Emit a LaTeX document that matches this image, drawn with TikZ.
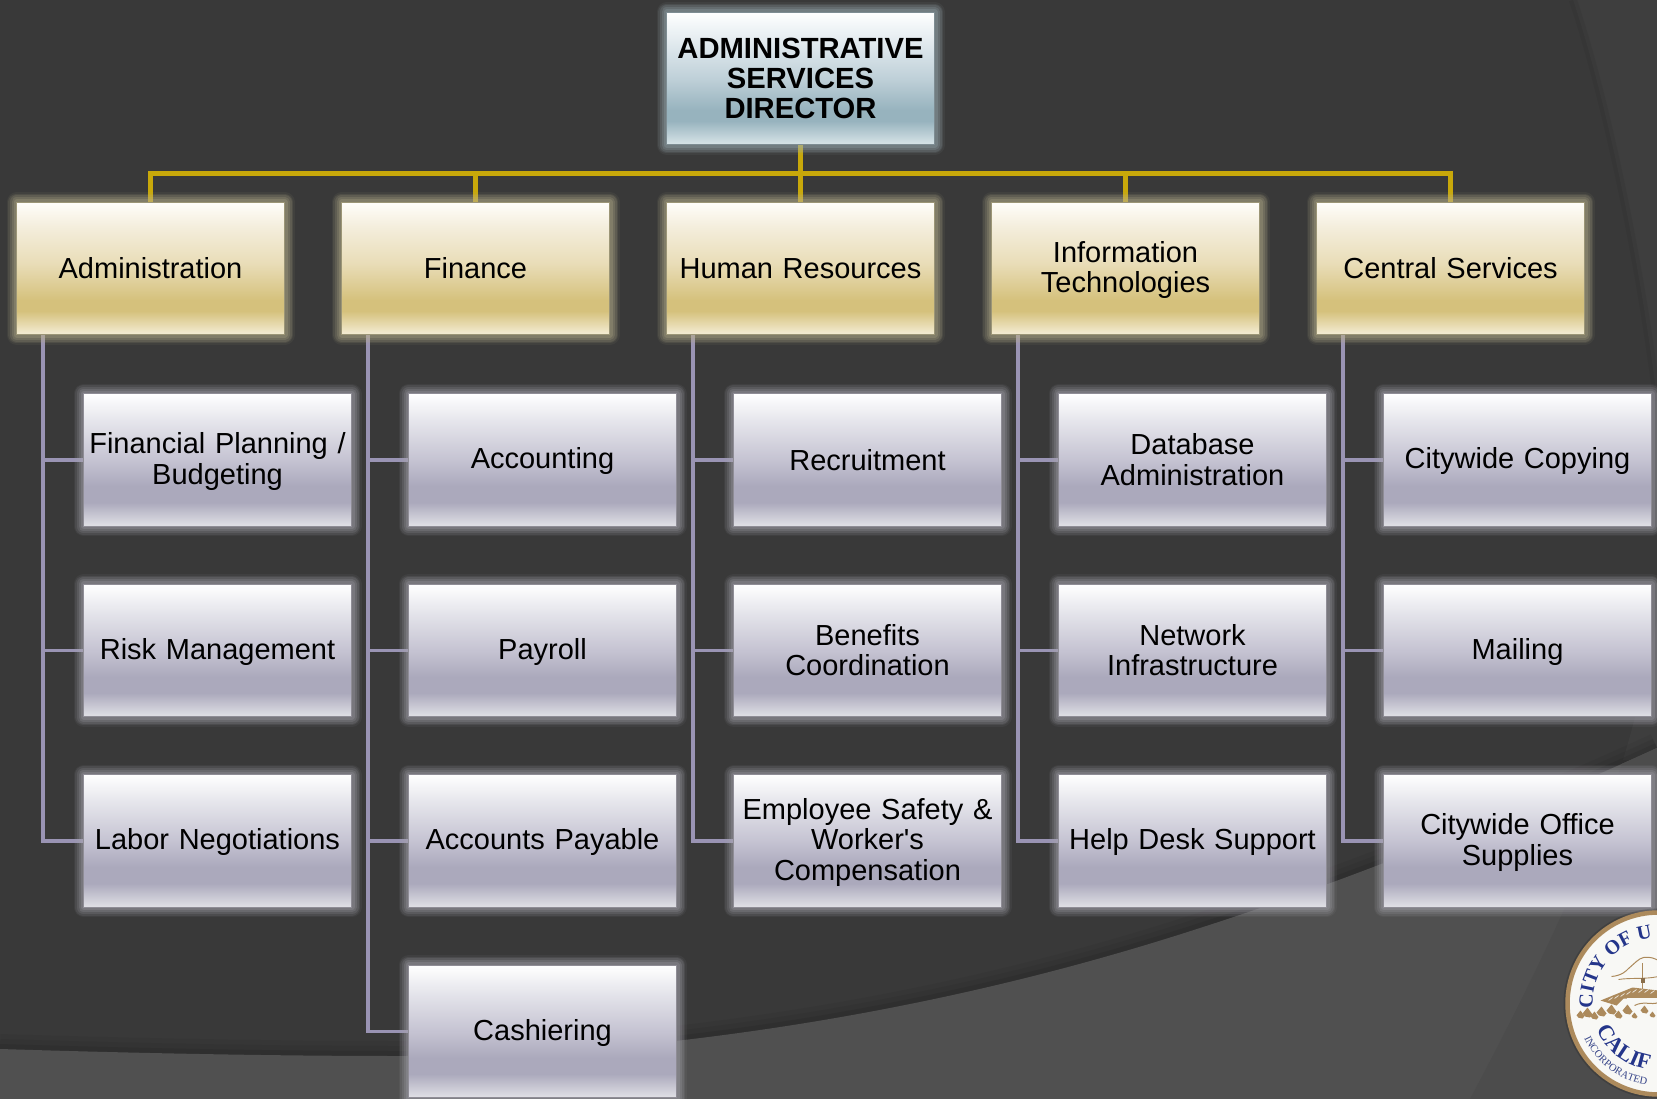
\documentclass[tikz,border=0pt]{standalone}
\usepackage{fontspec}
\setmainfont{Liberation Sans}
\newfontfamily\orgfont{Liberation Sans}
\newfontfamily\sealfont{Liberation Serif}
\usetikzlibrary{decorations.text}
\pgfdeclarelayer{bglayer}
\pgfdeclarelayer{connlayer}
\pgfsetlayers{bglayer,connlayer,main}
\definecolor{gA}{HTML}{FFFEFA}\definecolor{gB}{HTML}{F4EEDD}\definecolor{gC}{HTML}{E9DDB8}\definecolor{gD}{HTML}{D5C17C}\definecolor{gE}{HTML}{F3EBD1}
\definecolor{pA}{HTML}{FFFFFF}\definecolor{pB}{HTML}{E6E6EC}\definecolor{pC}{HTML}{C5C3D2}\definecolor{pD}{HTML}{ABA9BC}\definecolor{pE}{HTML}{DEDEE4}
\definecolor{bA}{HTML}{FFFFFF}\definecolor{bB}{HTML}{DDE7EC}\definecolor{bC}{HTML}{BFD0D8}\definecolor{bD}{HTML}{97B3BE}\definecolor{bE}{HTML}{D5E2E6}
\definecolor{bgdark}{HTML}{393939}\definecolor{bgmid}{HTML}{3E3E3E}\definecolor{bglight}{HTML}{505050}\definecolor{bgcrease}{HTML}{4C4C4C}
\definecolor{busgold}{HTML}{C8A80A}\definecolor{subpurple}{HTML}{9A94B4}
\definecolor{glowgold}{HTML}{B8B08C}\definecolor{glowpurple}{HTML}{A8A6B0}\definecolor{glowblue}{HTML}{9DB0B8}
\definecolor{sealtan}{HTML}{AC8A5C}\definecolor{sealblue}{HTML}{24358A}\definecolor{sealwhite}{HTML}{F8F8F5}
% the box of a path spans 25bp to 75bp of a 100bp vertical shading
\pgfdeclareverticalshading{goldsh}{100bp}{color(0bp)=(gE);color(25.5bp)=(gE);color(34bp)=(gD);color(38bp)=(gD);color(52bp)=(gC);color(66bp)=(gB);color(75bp)=(gA);color(100bp)=(gA)}
\pgfdeclareverticalshading{purplesh}{100bp}{color(0bp)=(pE);color(25.5bp)=(pE);color(34bp)=(pD);color(40bp)=(pD);color(50bp)=(pC);color(65bp)=(pB);color(75bp)=(pA);color(100bp)=(pA)}
\pgfdeclareverticalshading{bluesh}{100bp}{color(0bp)=(bE);color(25.5bp)=(bE);color(34bp)=(bD);color(38bp)=(bD);color(50bp)=(bC);color(62bp)=(bB);color(75bp)=(bA);color(100bp)=(bA)}
\tikzset{
  glowing/.style={
    preaction={draw=#1,line join=round,line width=20pt,opacity=.07},
    preaction={draw=#1,line join=round,line width=17pt,opacity=.12},
    preaction={draw=#1,line join=round,line width=14pt,opacity=.16},
    preaction={draw=#1,line join=round,line width=10pt,opacity=.2},
    preaction={draw=#1,line join=round,line width=6pt,opacity=.24}},
  orgbox/.style={rectangle,minimum width=268pt,minimum height=132.5pt,inner sep=0pt,
    text width=266pt,align=center,text=black,
    execute at begin node={\rule{0pt}{24pt}},
    execute at end node={\rule[-4pt]{0pt}{4pt}},
    font=\orgfont\fontsize{29pt}{30.8pt}\selectfont},
  topbox/.style={orgbox,glowing=glowblue,shading=bluesh,draw=glowblue!80!black,line width=.6pt,
    font=\orgfont\fontsize{29.2pt}{30.4pt}\selectfont\bfseries},
  deptbox/.style={orgbox,glowing=glowgold,shading=goldsh,draw=glowgold!85!black,line width=.6pt},
  unitbox/.style={orgbox,glowing=glowpurple,shading=purplesh,draw=glowpurple!85!black,line width=.6pt},
  busline/.style={draw=busgold,line width=4.4pt},
  subline/.style={draw=subpurple,line width=3.8pt,line join=miter}
}
\begin{document}
\begin{tikzpicture}[x=1pt,y=-1pt]
\useasboundingbox (0,0) rectangle (1657,1099);
\clip (0,0) rectangle (1657,1099);
\begin{pgfonlayer}{bglayer}
  \fill[bgdark] (0,0) rectangle (1657,1099);
  \fill[bgmid] (1573,0) .. controls (1605,95) and (1640,260) .. (1657,400) -- (1657,0) -- cycle;
  \draw[black,opacity=.05,line width=8pt] (1573,0) .. controls (1605,95) and (1640,260) .. (1657,400);
  \fill[bgmid] (1657,620) .. controls (1645,680) and (1635,720) .. (1623,760) -- (1657,760) -- cycle;
  \foreach \w/\o in {30/.04,20/.05,10/.07}
    \draw[black,opacity=\o,line width=\w pt] (0,1049) .. controls (130,1053) and (270,1056) .. (400,1056) .. controls (500,1056) and (600,1050) .. (684,1040) .. controls (870,1018) and (1040,980) .. (1200,928) .. controls (1350,880) and (1510,815) .. (1657,748);
  \fill[bglight] (0,1049) .. controls (130,1053) and (270,1056) .. (400,1056) .. controls (500,1056) and (600,1050) .. (684,1040) .. controls (870,1018) and (1040,980) .. (1200,928) .. controls (1350,880) and (1510,815) .. (1657,748) -- (1657,1099) -- (0,1099) -- cycle;
  \begin{scope}
    \clip (0,1049) .. controls (130,1053) and (270,1056) .. (400,1056) .. controls (500,1056) and (600,1050) .. (684,1040) .. controls (870,1018) and (1040,980) .. (1200,928) .. controls (1350,880) and (1510,815) .. (1657,748) -- (1657,1099) -- (0,1099) -- cycle;
    \fill[bgcrease] (1657,620) .. controls (1645,680) and (1635,720) .. (1623,760) .. controls (1600,830) and (1560,930) .. (1470,1099) -- (1657,1099) -- cycle;
  \end{scope}
\end{pgfonlayer}

\node[topbox] (dir) at (800.5,78.5) {ADMINISTRATIVE\\SERVICES\\DIRECTOR};
\node[deptbox] (adm) at (150.5,268.5) {Administration};
\node[deptbox] (fin) at (475.5,268.5) {Finance};
\node[deptbox] (hr) at (800.5,268.5) {Human Resources};
\node[deptbox] (it) at (1125.5,268.5) {Information\\Technologies};
\node[deptbox] (cs) at (1450.5,268.5) {Central Services};

\node[unitbox] (fp) at (217.5,460) {Financial Planning /\\Budgeting};
\node[unitbox] (risk) at (217.5,650.5) {Risk Management};
\node[unitbox] (labor) at (217.5,841) {Labor Negotiations};
\node[unitbox] (acct) at (542.5,460) {Accounting};
\node[unitbox] (pay) at (542.5,650.5) {Payroll};
\node[unitbox] (ap) at (542.5,841) {Accounts Payable};
\node[unitbox] (cash) at (542.5,1031.5) {Cashiering};
\node[unitbox] (rec) at (867.5,460) {Recruitment};
\node[unitbox] (ben) at (867.5,650.5) {Benefits\\Coordination};
\node[unitbox] (safe) at (867.5,841) {Employee Safety \&\\Worker's\\Compensation};
\node[unitbox] (db) at (1192.5,460) {Database\\Administration};
\node[unitbox] (net) at (1192.5,650.5) {Network\\Infrastructure};
\node[unitbox] (help) at (1192.5,841) {Help Desk Support};
\node[unitbox] (copy) at (1517.5,460) {Citywide Copying};
\node[unitbox] (mail) at (1517.5,650.5) {Mailing};
\node[unitbox] (sup) at (1517.5,841) {Citywide Office\\Supplies};

\begin{pgfonlayer}{connlayer}
  \coordinate (bus) at (800.5,173.5);
  \draw[busline] (dir.south) -- (hr.north);
  \draw[busline,line join=miter] (adm.north) |- (bus) -| (cs.north);
  \draw[busline] (fin.north) -- (fin.north |- bus);
  \draw[busline] (it.north) -- (it.north |- bus);
  \foreach \d/\kids in {adm/{fp,risk,labor},fin/{acct,pay,ap,cash},hr/{rec,ben,safe},it/{db,net,help},cs/{copy,mail,sup}}{
    \foreach \k in \kids
      \draw[subline] ([xshift=27pt]\d.south west) |- (\k.west);
  }
\end{pgfonlayer}

% seal
\begin{scope}[shift={(1658.5,1003.5)},y=1pt]
  \fill[black,opacity=.15] (0,0) circle (95);
  \fill[sealwhite] (0,0) circle (92);
  \draw[sealtan,line width=4.5pt] (0,0) circle (91);
  % hills and tower
  \draw[sealtan,line width=1pt] (-47,27) .. controls (-36,28) and (-32,33) .. (-30,35) .. controls (-24,40) and (-20,45) .. (-15,46) .. controls (-8,47) and (-4,45) .. (0,43);
  \draw[sealtan,line width=.9pt] (-40,24) .. controls (-28,26) and (-14,24) .. (0,27);
  \draw[sealtan,line width=1.4pt] (-16,15) -- (-16,41);
  \fill[sealtan!80!black] (-18,26) rectangle (-14,21);
  \fill[sealtan] (-58,3) -- (-26,16) -- (0,13) -- (0,5) -- (-35,5) -- (-42,-2) -- cycle;
  \fill[sealwhite] (-32,6) rectangle (0,3);
  \foreach \a/\b in {-50/3,-44/5,-38/7,-32/9,-26/11,-20/11,-14/11,-8/10}
    \draw[sealwhite,line width=.6pt] (\a,\b) -- ++(4,3);
  % tree line
  \foreach \a/\b/\s in {-78/-11/4,-71/-9/5,-64/-12/4,-57/-8/5,-47/-6/5,-40/-11/4,-31/-6/5,-24/-12/3,-14/-6/4,-6/-11/3}
    \fill[sealtan] (\a,\b+\s) -- (\a+\s,\b-\s*.4) -- (\a+\s*.5,\b-\s) -- (\a-\s*.5,\b-\s*.8) -- (\a-\s,\b-\s*.2) -- cycle;
  \draw[sealtan,line width=1pt] (-24,-2) .. controls (-14,3) and (-8,-2) .. (0,1);
  % seal text
  \path[decorate,decoration={text along path,text color=sealblue,
    text={|\sealfont\fontsize{20pt}{20pt}\selectfont\bfseries|CITY OF U}}]
    (184:66) arc[start angle=184,end angle=90,radius=66];
  \path[decorate,decoration={text along path,text color=sealblue,
    text={|\sealfont\fontsize{22pt}{22pt}\selectfont\bfseries|CALIF}}]
    (203:67) arc[start angle=203,end angle=270,radius=67];
  \path[decorate,decoration={text along path,text color=sealblue!80!gray,
    text={|\sealfont\fontsize{10.5pt}{11pt}\selectfont|INCORPORATED}}]
    (205:82) arc[start angle=205,end angle=270,radius=82];
\end{scope}
\end{tikzpicture}
\end{document}
